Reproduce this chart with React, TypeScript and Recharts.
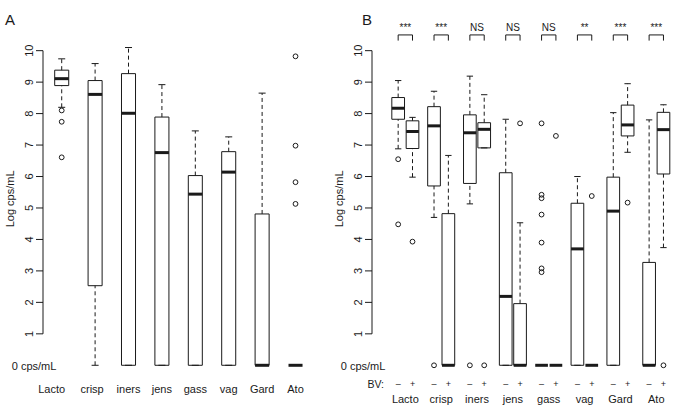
import React from 'react';
import { ComposedChart, XAxis, YAxis, Scatter, ReferenceArea, ReferenceLine } from 'recharts';

const FONT = '"Liberation Sans", Arial, Helvetica, sans-serif';
const INK = '#1a1a1a';

const yTicks = [0, 1, 2, 3, 4, 5, 6, 7, 8, 9, 10];
const Y_DOMAIN: [number, number] = [-0.55, 11];

// Panel A: all samples
const speciesA = ['Lacto', 'crisp', 'iners', 'jens', 'gass', 'vag', 'Gard', 'Ato'];
// lower whisker, Q1, median, Q3, upper whisker
const statsA = [
  [8.2, 8.89, 9.11, 9.38, 9.74],
  [0, 2.53, 8.61, 9.05, 9.59],
  [0, 0, 8.01, 9.27, 10.1],
  [0, 0, 6.76, 7.89, 8.92],
  [0, 0, 5.44, 6.03, 7.45],
  [0, 0, 6.14, 6.79, 7.26],
  [0, 0, 0, 4.81, 8.65],
  [0, 0, 0, 0, 0],
];
const outliersA = [[8.1, 7.74, 6.61], [], [], [], [], [], [], [9.82, 6.98, 5.82, 5.13]];

// Panel B: split by BV status (- / +)
const speciesB = ['Lacto', 'crisp', 'iners', 'jens', 'gass', 'vag', 'Gard', 'Ato'];
const statsNeg = [
  [6.88, 7.82, 8.17, 8.51, 9.05],
  [4.7, 5.7, 7.61, 8.22, 8.71],
  [5.13, 5.78, 7.39, 7.96, 9.19],
  [0, 0, 2.19, 6.12, 7.82],
  [0, 0, 0, 0, 0],
  [0, 0, 3.7, 5.15, 6.0],
  [0, 0, 4.9, 5.98, 8.03],
  [0, 0, 0, 3.27, 7.8],
];
const statsPos = [
  [5.98, 6.89, 7.43, 7.77, 7.88],
  [0, 0, 0, 4.82, 6.67],
  [6.91, 6.91, 7.5, 7.71, 8.6],
  [0, 0, 0, 1.96, 4.53],
  [0, 0, 0, 0, 0],
  [0, 0, 0, 0, 0],
  [6.77, 7.29, 7.64, 8.27, 8.95],
  [3.74, 6.08, 7.49, 8.04, 8.28],
];
const outliersNeg = [[6.55, 4.48], [0], [0], [], [7.69, 5.42, 5.31, 4.79, 3.9, 3.08, 2.96], [], [], []];
const outliersPos = [[3.93], [], [0], [7.69], [7.29], [5.38], [5.17], [0]];
const significance = ['***', '***', 'NS', 'NS', 'NS', '**', '***', '***'];

const labelShiftA: Record<string, number> = { Lacto: -10, crisp: -3 };

function boxMarks(key: string, x: number, s: number[], hw: number) {
  const [lo, q1, med, q3, hi] = s;
  const cap = hw / 2;
  const common = { stroke: INK, strokeWidth: 1, ifOverflow: 'visible' as const };
  return [
    <ReferenceLine key={key + 'wu'} segment={[{ x, y: q3 }, { x, y: hi }]} strokeDasharray="4 3" {...common} />,
    <ReferenceLine key={key + 'wl'} segment={[{ x, y: lo }, { x, y: q1 }]} strokeDasharray="4 3" {...common} />,
    <ReferenceLine key={key + 'cu'} segment={[{ x: x - cap, y: hi }, { x: x + cap, y: hi }]} {...common} />,
    <ReferenceLine key={key + 'cl'} segment={[{ x: x - cap, y: lo }, { x: x + cap, y: lo }]} {...common} />,
    <ReferenceArea key={key + 'bx'} x1={x - hw} x2={x + hw} y1={q1} y2={q3} fill="none" fillOpacity={0} stroke={INK} strokeWidth={1} ifOverflow="visible" />,
    <ReferenceLine key={key + 'md'} segment={[{ x: x - hw, y: med }, { x: x + hw, y: med }]} stroke={INK} strokeWidth={3} ifOverflow="visible" />,
  ];
}

const dot = (p: any) => <circle cx={p.cx} cy={p.cy} r={2.4} fill="none" stroke={INK} strokeWidth={1} />;

const YTick = (p: any) => {
  const v = p.payload.value;
  if (v === 0) {
    return (
      <text x={p.x + 13.4} y={p.y + 1} textAnchor="end" dominantBaseline="central" fontSize={11} fontFamily={FONT} fill={INK}>
        0 cps/mL
      </text>
    );
  }
  return (
    <g>
      <line x1={p.x - 7} x2={p.x} y1={p.y} y2={p.y} stroke={INK} strokeWidth={1} />
      <text
        x={p.x - 13.5}
        y={p.y}
        transform={`rotate(-90 ${p.x - 13.5} ${p.y})`}
        textAnchor="middle"
        dominantBaseline="central"
        fontSize={11}
        fontFamily={FONT}
        fill={INK}
      >
        {v}
      </text>
    </g>
  );
};

const yLabel = (p: any) => {
  const vb = p.viewBox || {};
  const cx = vb.x + 10;
  const cy = vb.y + vb.height / 2 - 2;
  return (
    <text x={cx} y={cy} transform={`rotate(-90 ${cx} ${cy})`} textAnchor="middle" dominantBaseline="central" fontSize={11} fontFamily={FONT} fill={INK}>
      Log cps/mL
    </text>
  );
};

const XTickA = (p: any) => {
  const name = speciesA[Math.round(p.payload.value) - 1];
  return (
    <text x={p.x + (labelShiftA[name] ?? 0)} y={p.y + 6.4} textAnchor="middle" dominantBaseline="central" fontSize={11} fontFamily={FONT} fill={INK}>
      {name}
    </text>
  );
};

const XTickB = (p: any) => {
  const v = p.payload.value;
  const r = Math.round(v);
  if (Math.abs(v - r) < 0.01) {
    return (
      <text x={p.x} y={p.y + 16.8} textAnchor="middle" dominantBaseline="central" fontSize={11} fontFamily={FONT} fill={INK}>
        {speciesB[r - 1]}
      </text>
    );
  }
  return (
    <text x={p.x} y={p.y + 1.6} textAnchor="middle" dominantBaseline="central" fontSize={9} fontFamily={FONT} fill={INK}>
      {v < r ? '–' : '+'}
    </text>
  );
};

const bvLabel = (p: any) => {
  const vb = p.viewBox || {};
  return (
    <text x={vb.x + 12} y={vb.y + 1.6} textAnchor="end" dominantBaseline="central" fontSize={10.5} fontFamily={FONT} fill={INK}>
      BV:
    </text>
  );
};

const sigText = (p: any) => (
  <text x={p.cx} y={p.cy - 3.5} textAnchor="middle" fontSize={10} fontFamily={FONT} fill={INK}>
    {p.payload.label}
  </text>
);

const xA = speciesA.map((_, i) => i + 1);
const xB = speciesB.map((_, i) => i + 1);
const OFF = 0.2;

const outlierDataA = outliersA.flatMap((vals, i) => vals.map((y) => ({ x: xA[i], y })));
const outlierDataB = [
  ...outliersNeg.flatMap((vals, i) => vals.map((y) => ({ x: xB[i] - OFF, y }))),
  ...outliersPos.flatMap((vals, i) => vals.map((y) => ({ x: xB[i] + OFF, y }))),
];
const SIG_Y = 10.5;
const SIG_LEG = 10.32;
const sigData = significance.map((label, i) => ({ x: xB[i], y: SIG_Y, label }));
const ticksB = xB.flatMap((x) => [x - OFF, x, x + OFF]);

const DOM_A: [number, number] = [0.44, 8.7];
const DOM_B: [number, number] = [0.07, 8.6];

function PanelA() {
  return (
    <ComposedChart width={340} height={409} margin={{ top: 19.2, right: 21.1, bottom: 0, left: 0 }}>
      <XAxis
        type="number"
        dataKey="x"
        domain={DOM_A}
        allowDataOverflow
        ticks={xA}
        interval={0}
        axisLine={false}
        tickLine={false}
        tickSize={0}
        tickMargin={0}
        height={26.4}
        tick={XTickA}
      />
      <YAxis
        type="number"
        domain={Y_DOMAIN}
        allowDataOverflow
        ticks={yTicks}
        interval={0}
        axisLine={false}
        tickLine={false}
        tickSize={0}
        tickMargin={0}
        width={43}
        tick={YTick}
        label={{ content: yLabel }}
      />
      <ReferenceLine segment={[{ x: DOM_A[0], y: 1 }, { x: DOM_A[0], y: 10 }]} stroke={INK} strokeWidth={1} ifOverflow="visible" />
      {statsA.flatMap((s, i) => boxMarks('a' + i, xA[i], s, 0.21))}
      <Scatter data={outlierDataA} dataKey="y" shape={dot} isAnimationActive={false} />
    </ComposedChart>
  );
}

function PanelB() {
  return (
    <ComposedChart width={356} height={409} margin={{ top: 19.2, right: 7.2, bottom: 0, left: 0 }}>
      <XAxis
        type="number"
        dataKey="x"
        domain={DOM_B}
        allowDataOverflow
        ticks={ticksB}
        interval={0}
        axisLine={false}
        tickLine={false}
        tickSize={0}
        tickMargin={0}
        height={26.4}
        tick={XTickB}
        label={{ content: bvLabel }}
      />
      <YAxis
        type="number"
        domain={Y_DOMAIN}
        allowDataOverflow
        ticks={yTicks}
        interval={0}
        axisLine={false}
        tickLine={false}
        tickSize={0}
        tickMargin={0}
        width={43}
        tick={YTick}
        label={{ content: yLabel }}
      />
      <ReferenceLine segment={[{ x: DOM_B[0], y: 1 }, { x: DOM_B[0], y: 10 }]} stroke={INK} strokeWidth={1} ifOverflow="visible" />
      {statsNeg.flatMap((s, i) => boxMarks('n' + i, xB[i] - OFF, s, 0.177))}
      {statsPos.flatMap((s, i) => boxMarks('p' + i, xB[i] + OFF, s, 0.177))}
      {xB.flatMap((x, i) => [
        <ReferenceLine key={'bt' + i} segment={[{ x: x - OFF, y: SIG_Y }, { x: x + OFF, y: SIG_Y }]} stroke={INK} strokeWidth={1} ifOverflow="visible" />,
        <ReferenceLine key={'bl' + i} segment={[{ x: x - OFF, y: SIG_Y }, { x: x - OFF, y: SIG_LEG }]} stroke={INK} strokeWidth={1} ifOverflow="visible" />,
        <ReferenceLine key={'br' + i} segment={[{ x: x + OFF, y: SIG_Y }, { x: x + OFF, y: SIG_LEG }]} stroke={INK} strokeWidth={1} ifOverflow="visible" />,
      ])}
      <Scatter data={outlierDataB} dataKey="y" shape={dot} isAnimationActive={false} />
      <Scatter data={sigData} dataKey="y" shape={sigText} isAnimationActive={false} />
    </ComposedChart>
  );
}

export default function App() {
  const letter: React.CSSProperties = { position: 'absolute', fontFamily: FONT, fontSize: 15, color: INK, lineHeight: 1 };
  return (
    <div style={{ position: 'absolute', left: 0, top: 0, width: 685, height: 409, background: '#fff', overflow: 'hidden' }}>
      <div style={{ position: 'absolute', left: 0, top: 0 }}>
        <PanelA />
      </div>
      <div style={{ position: 'absolute', left: 329, top: 0 }}>
        <PanelB />
      </div>
      <div style={{ ...letter, left: 5, top: 12 }}>A</div>
      <div style={{ ...letter, left: 362, top: 12 }}>B</div>
    </div>
  );
}
